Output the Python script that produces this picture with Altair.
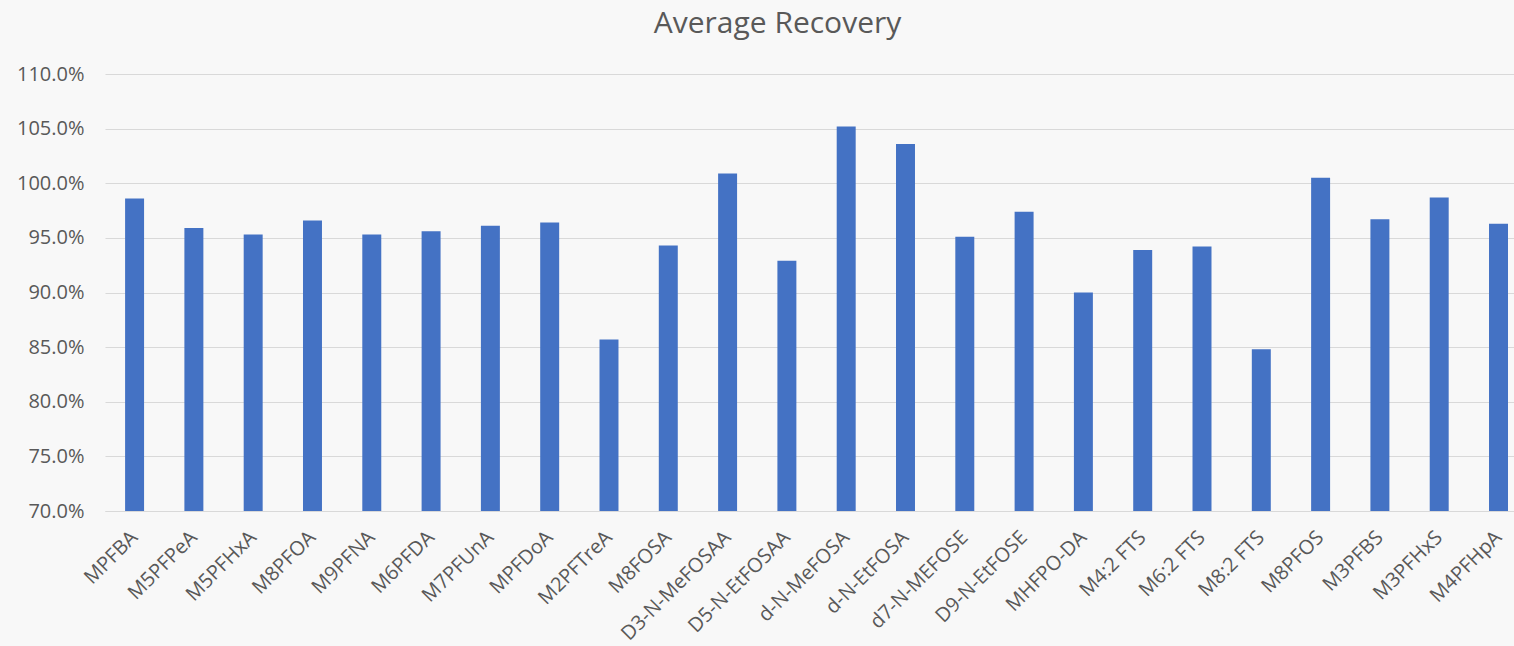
import altair as alt
import pandas as pd

compounds = ["MPFBA", "M5PFPeA", "M5PFHxA", "M8PFOA", "M9PFNA", "M6PFDA", "M7PFUnA",
             "MPFDoA", "M2PFTreA", "M8FOSA", "D3-N-MeFOSAA", "D5-N-EtFOSAA",
             "d-N-MeFOSA", "d-N-EtFOSA", "d7-N-MEFOSE", "D9-N-EtFOSE", "MHFPO-DA",
             "M4:2 FTS", "M6:2 FTS", "M8:2 FTS", "M8PFOS", "M3PFBS", "M3PFHxS", "M4PFHpA"]
recovery = [0.986, 0.959, 0.953, 0.966, 0.953, 0.956, 0.961,
            0.964, 0.857, 0.943, 1.009, 0.929,
            1.052, 1.036, 0.951, 0.974, 0.900,
            0.939, 0.942, 0.848, 1.005, 0.967, 0.987, 0.963]
y_ticks = [0.70, 0.75, 0.80, 0.85, 0.90, 0.95, 1.00, 1.05, 1.10]

df = pd.DataFrame({"compound": compounds, "recovery": recovery})

FONT = "Open Sans"
TXT = "#595959"

chart = alt.Chart(df).mark_bar(color="#4472C4").encode(
    x=alt.X("compound:N", sort=compounds, title=None,
            scale=alt.Scale(paddingInner=0.68, paddingOuter=0.22, align=0.77),
            axis=alt.Axis(labelAngle=-45, labelAlign="right", labelBaseline="middle",
                          labelFont=FONT, labelFontSize=20, labelColor=TXT,
                          labelPadding=23, ticks=False, domain=True,
                          domainColor="#d9d9d9", labelOverlap=False)),
    y=alt.Y("recovery:Q", title=None,
            scale=alt.Scale(domain=[0.7, 1.1], zero=False, nice=False),
            axis=alt.Axis(values=y_ticks, format=".1%", labelFont=FONT,
                          labelFontSize=20, labelColor=TXT, labelPadding=21,
                          ticks=False, domain=False, gridColor="#d9d9d9")),
    y2=alt.datum(0.7),
).properties(
    width=1409,
    height=437,
    title=alt.TitleParams("Average Recovery", font=FONT, fontSize=30, fontWeight="normal",
                          color=TXT, anchor="middle", dx=-32, offset=25),
    background="#f8f8f8",
    padding={"left": 105, "top": 74, "right": 0, "bottom": 135},
    autosize=alt.AutoSizeParams(type="none"),
).configure_view(stroke=None)

chart.save("out.html", embed_options={"renderer": "svg", "actions": False})
